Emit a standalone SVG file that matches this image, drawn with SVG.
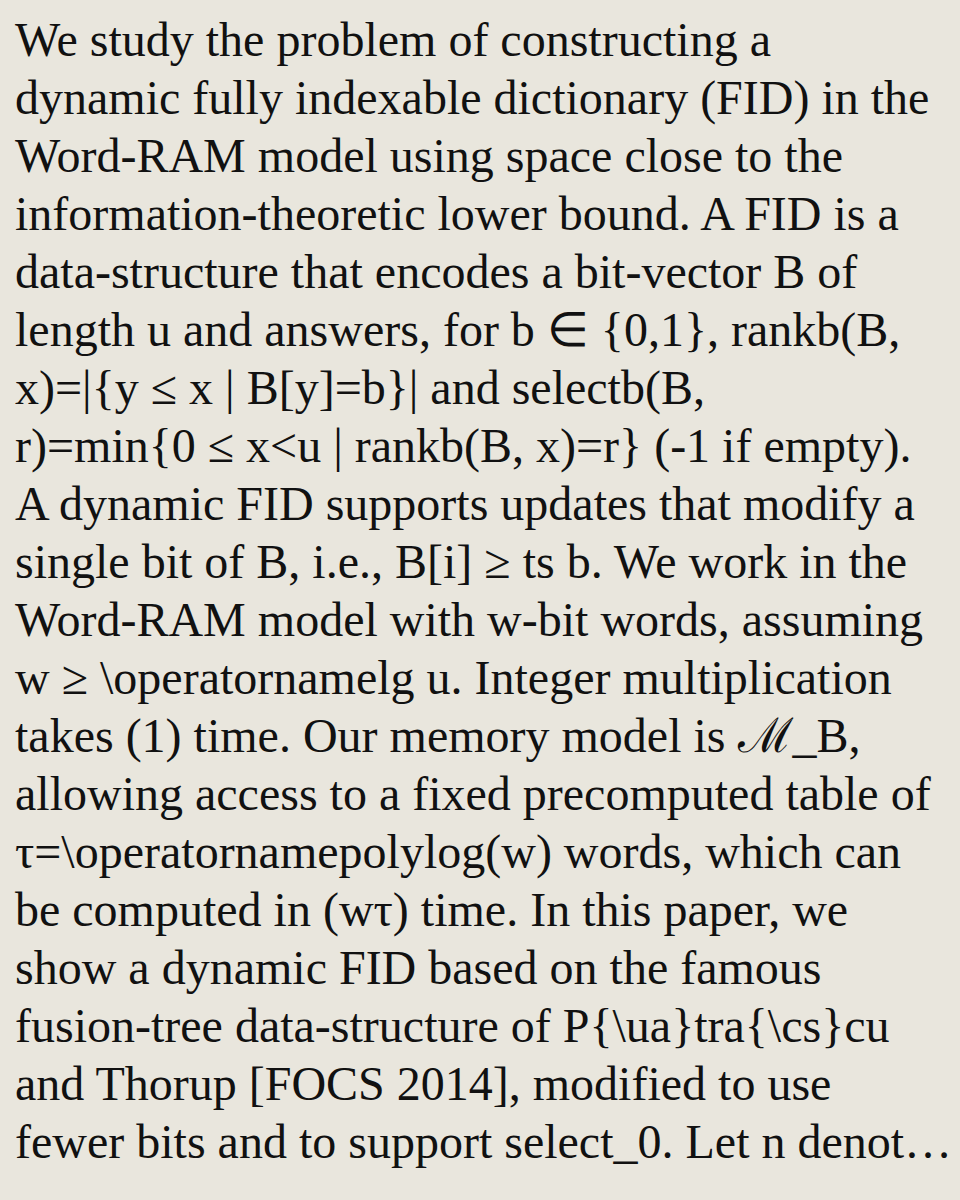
<svg xmlns="http://www.w3.org/2000/svg" width="960" height="1200" viewBox="0 0 960 1200">
<style>text{font-family:"Liberation Serif","Times New Roman",serif;font-size:48px;fill:#111}</style>
<rect width="960" height="1200" fill="#e9e6dd"/>
<g id="abstract">
<text x="15" y="56">We study the problem of constructing a</text>
<text x="15" y="114">dynamic fully indexable dictionary (FID) in the</text>
<text x="15" y="172">Word-RAM model using space close to the</text>
<text x="15" y="230">information-theoretic lower bound. A FID is a</text>
<text x="15" y="288">data-structure that encodes a bit-vector B of</text>
<text x="15" y="346">length u and answers, for b ∈ {0,1}, rankb(B,</text>
<text x="15" y="404">x)=|{y ≤  x | B[y]=b}| and selectb(B,</text>
<text x="15" y="462">r)=min{0 ≤  x&lt;u | rankb(B, x)=r} (-1 if empty).</text>
<text x="15" y="520">A dynamic FID supports updates that modify a</text>
<text x="15" y="578">single bit of B, i.e., B[i] ≥ ts b. We work in the</text>
<text x="15" y="636">Word-RAM model with w-bit words, assuming</text>
<text x="15" y="694">w ≥  \operatornamelg u. Integer multiplication</text>
<text x="15" y="752">takes  (1) time. Our memory model is ℳ_B,</text>
<text x="15" y="810">allowing access to a fixed precomputed table of</text>
<text x="15" y="868">τ=\operatornamepolylog(w) words, which can</text>
<text x="15" y="926">be computed in  (wτ) time. In this paper, we</text>
<text x="15" y="984">show a dynamic FID based on the famous</text>
<text x="15" y="1042">fusion-tree data-structure of P{\ua}tra{\cs}cu</text>
<text x="15" y="1100">and Thorup [FOCS 2014], modified to use</text>
<text x="15" y="1158">fewer bits and to support select_0. Let n denot…</text>
</g>
</svg>
